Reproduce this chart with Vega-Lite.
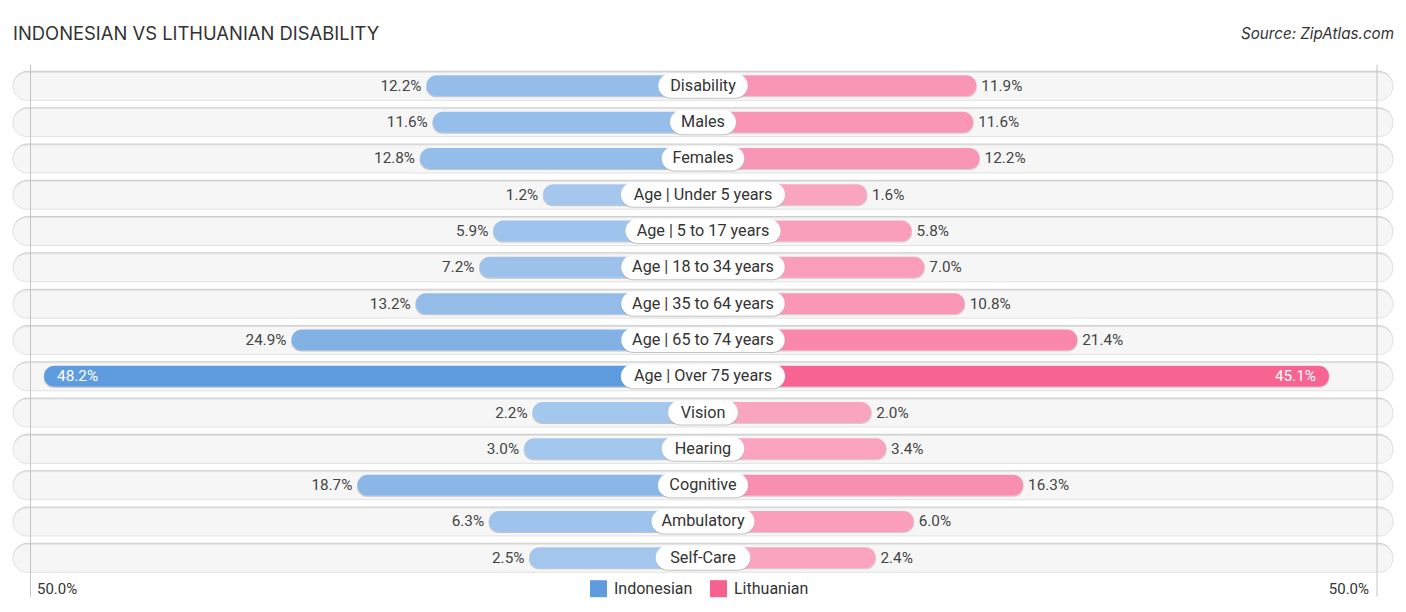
{
  "$schema": "https://vega.github.io/schema/vega-lite/v6.json",
  "autosize": {"type": "none"},
  "padding": {"left": 0, "top": 67.7, "right": 0, "bottom": 36.1},
  "width": 1406,
  "height": 508.2,
  "background": "white",
  "view": {"stroke": null},
  "title": {
    "text": "INDONESIAN VS LITHUANIAN DISABILITY",
    "anchor": "start",
    "frame": "group",
    "dx": 13,
    "offset": -17,
    "font": "Inter",
    "fontSize": 18.4,
    "fontWeight": "normal",
    "color": "#333333"
  },
  "data": {
    "values": [
      {"category": "Disability", "group": "Indonesian", "value": 12.2},
      {"category": "Disability", "group": "Lithuanian", "value": 11.9},
      {"category": "Males", "group": "Indonesian", "value": 11.6},
      {"category": "Males", "group": "Lithuanian", "value": 11.6},
      {"category": "Females", "group": "Indonesian", "value": 12.8},
      {"category": "Females", "group": "Lithuanian", "value": 12.2},
      {"category": "Age | Under 5 years", "group": "Indonesian", "value": 1.2},
      {"category": "Age | Under 5 years", "group": "Lithuanian", "value": 1.6},
      {"category": "Age | 5 to 17 years", "group": "Indonesian", "value": 5.9},
      {"category": "Age | 5 to 17 years", "group": "Lithuanian", "value": 5.8},
      {"category": "Age | 18 to 34 years", "group": "Indonesian", "value": 7.2},
      {"category": "Age | 18 to 34 years", "group": "Lithuanian", "value": 7.0},
      {"category": "Age | 35 to 64 years", "group": "Indonesian", "value": 13.2},
      {"category": "Age | 35 to 64 years", "group": "Lithuanian", "value": 10.8},
      {"category": "Age | 65 to 74 years", "group": "Indonesian", "value": 24.9},
      {"category": "Age | 65 to 74 years", "group": "Lithuanian", "value": 21.4},
      {"category": "Age | Over 75 years", "group": "Indonesian", "value": 48.2},
      {"category": "Age | Over 75 years", "group": "Lithuanian", "value": 45.1},
      {"category": "Vision", "group": "Indonesian", "value": 2.2},
      {"category": "Vision", "group": "Lithuanian", "value": 2.0},
      {"category": "Hearing", "group": "Indonesian", "value": 3.0},
      {"category": "Hearing", "group": "Lithuanian", "value": 3.4},
      {"category": "Cognitive", "group": "Indonesian", "value": 18.7},
      {"category": "Cognitive", "group": "Lithuanian", "value": 16.3},
      {"category": "Ambulatory", "group": "Indonesian", "value": 6.3},
      {"category": "Ambulatory", "group": "Lithuanian", "value": 6.0},
      {"category": "Self-Care", "group": "Indonesian", "value": 2.5},
      {"category": "Self-Care", "group": "Lithuanian", "value": 2.4}
    ]
  },
  "transform": [
    {"calculate": "format(datum.value, '.1f') + '%'", "as": "label"}
  ],
  "encoding": {
    "y": {"field": "category", "type": "nominal", "sort": null, "axis": null, "scale": {"paddingInner": 0, "paddingOuter": 0}}
  },
  "resolve": {"scale": {"x": "independent"}},
  "layer": [
    {
      "transform": [{"filter": "datum.group === 'Indonesian'"}],
      "mark": {"type": "bar", "height": 29, "cornerRadius": 15, "color": "#cfcfcf", "yOffset": -0.5},
      "encoding": {
        "x": {"datum": -690, "type": "quantitative", "axis": null, "scale": {"domain": [-703, 703], "range": [0, 1406]}},
        "x2": {"datum": 690}
      }
    },
    {
      "transform": [{"filter": "datum.group === 'Indonesian'"}],
      "mark": {"type": "bar", "height": 28, "cornerRadius": 14, "color": "#f6f6f6", "stroke": "#e2e2e2", "strokeWidth": 1, "yOffset": 0.5},
      "encoding": {
        "x": {"datum": -690, "type": "quantitative", "axis": null, "scale": {"domain": [-703, 703], "range": [0, 1406]}},
        "x2": {"datum": 690}
      }
    },
    {
      "data": {"values": [{"side": -672.5}, {"side": 674}]},
      "mark": {"type": "rule", "color": "#c4c4c4", "strokeWidth": 1},
      "encoding": {
        "y": {"value": -3},
        "y2": {"value": 529},
        "x": {"field": "side", "type": "quantitative", "axis": null, "scale": {"domain": [-703, 703], "range": [0, 1406]}}
      }
    },
    {
      "data": {"values": [{"side": -666, "label": "50.0%"}]},
      "mark": {"type": "text", "align": "left", "baseline": "middle", "font": "Roboto", "fontSize": 15, "color": "#333333"},
      "encoding": {
        "y": {"value": 521},
        "x": {"field": "side", "type": "quantitative", "axis": null, "scale": {"domain": [-703, 703], "range": [0, 1406]}},
        "text": {"field": "label"}
      }
    },
    {
      "data": {"values": [{"side": 666, "label": "50.0%"}]},
      "mark": {"type": "text", "align": "right", "baseline": "middle", "font": "Roboto", "fontSize": 15, "color": "#333333"},
      "encoding": {
        "y": {"value": 521},
        "x": {"field": "side", "type": "quantitative", "axis": null, "scale": {"domain": [-703, 703], "range": [0, 1406]}},
        "text": {"field": "label"}
      }
    },
    {
      "data": {"values": [{"side": 691, "label": "Source: ZipAtlas.com"}]},
      "mark": {"type": "text", "align": "right", "baseline": "middle", "font": "Inter", "fontStyle": "italic", "fontSize": 15.2, "color": "#333333"},
      "encoding": {
        "y": {"value": -34},
        "x": {"field": "side", "type": "quantitative", "axis": null, "scale": {"domain": [-703, 703], "range": [0, 1406]}},
        "text": {"field": "label"}
      }
    },
    {
      "transform": [{"filter": "datum.group === 'Indonesian'"}],
      "mark": {"type": "bar", "height": 21, "cornerRadius": 10, "color": "#777777", "opacity": 0.4, "yOffset": 1, "xOffset": -0.5},
      "encoding": {
        "x": {"field": "value", "type": "quantitative", "axis": null, "scale": {"domain": [-13.84, 50], "range": [703, 25]}},
        "x2": {"datum": -13.84}
      }
    },
    {
      "transform": [{"filter": "datum.group === 'Lithuanian'"}],
      "mark": {"type": "bar", "height": 21, "cornerRadius": 10, "color": "#777777", "opacity": 0.3, "yOffset": 1, "xOffset": 0.5},
      "encoding": {
        "x": {"field": "value", "type": "quantitative", "axis": null, "scale": {"domain": [-13.84, 50], "range": [703, 1381]}},
        "x2": {"datum": -13.84}
      }
    },
    {
      "transform": [{"filter": "datum.group === 'Indonesian'"}],
      "mark": {"type": "bar", "height": 21, "cornerRadius": 10, "color": "white"},
      "encoding": {
        "x": {"field": "value", "type": "quantitative", "axis": null, "scale": {"domain": [-13.84, 50], "range": [703, 25]}},
        "x2": {"datum": -13.84}
      }
    },
    {
      "transform": [{"filter": "datum.group === 'Lithuanian'"}],
      "mark": {"type": "bar", "height": 21, "cornerRadius": 10, "color": "white"},
      "encoding": {
        "x": {"field": "value", "type": "quantitative", "axis": null, "scale": {"domain": [-13.84, 50], "range": [703, 1381]}},
        "x2": {"datum": -13.84}
      }
    },
    {
      "transform": [{"filter": "datum.group === 'Indonesian'"}],
      "mark": {"type": "bar", "height": 21, "cornerRadius": 10},
      "encoding": {
        "x": {"field": "value", "type": "quantitative", "axis": null, "scale": {"domain": [-13.84, 50], "range": [703, 25]}},
        "x2": {"datum": -13.84},
        "color": {
          "field": "group",
          "type": "nominal",
          "scale": {"domain": ["Indonesian", "Lithuanian"], "range": ["#5f9cdf", "#f7608f"]},
          "legend": {
            "orient": "none",
            "legendX": 590,
            "legendY": 512.5,
            "direction": "horizontal",
            "columns": 2,
            "columnPadding": 17,
            "title": null,
            "symbolType": "square",
            "symbolSize": 289,
            "symbolStrokeWidth": 0,
            "symbolOpacity": 1,
            "labelFont": "Roboto",
            "labelFontSize": 16,
            "labelColor": "#333333",
            "labelOffset": 7
          }
        },
        "opacity": {"field": "value", "type": "quantitative", "legend": null, "scale": {"domain": [0, 48.2], "range": [0.55, 1]}}
      }
    },
    {
      "transform": [{"filter": "datum.group === 'Lithuanian'"}],
      "mark": {"type": "bar", "height": 21, "cornerRadius": 10},
      "encoding": {
        "x": {"field": "value", "type": "quantitative", "axis": null, "scale": {"domain": [-13.84, 50], "range": [703, 1381]}},
        "x2": {"datum": -13.84},
        "color": {"field": "group", "type": "nominal", "scale": {"domain": ["Indonesian", "Lithuanian"], "range": ["#5f9cdf", "#f7608f"]}},
        "opacity": {"field": "value", "type": "quantitative", "legend": null, "scale": {"domain": [0, 48.2], "range": [0.55, 1]}}
      }
    },
    {
      "transform": [{"filter": "datum.group === 'Indonesian' && datum.value < 40"}],
      "mark": {"type": "text", "align": "right", "baseline": "middle", "dx": -5, "font": "Roboto", "fontSize": 15.3, "color": "#444444"},
      "encoding": {
        "x": {"field": "value", "type": "quantitative", "axis": null, "scale": {"domain": [-13.84, 50], "range": [703, 25]}},
        "text": {"field": "label"}
      }
    },
    {
      "transform": [{"filter": "datum.group === 'Lithuanian' && datum.value < 40"}],
      "mark": {"type": "text", "align": "left", "baseline": "middle", "dx": 5, "font": "Roboto", "fontSize": 15.3, "color": "#444444"},
      "encoding": {
        "x": {"field": "value", "type": "quantitative", "axis": null, "scale": {"domain": [-13.84, 50], "range": [703, 1381]}},
        "text": {"field": "label"}
      }
    },
    {
      "transform": [{"filter": "datum.group === 'Indonesian' && datum.value >= 40"}],
      "mark": {"type": "text", "align": "left", "baseline": "middle", "dx": 13, "font": "Roboto", "fontSize": 15.3, "color": "white"},
      "encoding": {
        "x": {"field": "value", "type": "quantitative", "axis": null, "scale": {"domain": [-13.84, 50], "range": [703, 25]}},
        "text": {"field": "label"}
      }
    },
    {
      "transform": [{"filter": "datum.group === 'Lithuanian' && datum.value >= 40"}],
      "mark": {"type": "text", "align": "right", "baseline": "middle", "dx": -13, "font": "Roboto", "fontSize": 15.3, "color": "white"},
      "encoding": {
        "x": {"field": "value", "type": "quantitative", "axis": null, "scale": {"domain": [-13.84, 50], "range": [703, 1381]}},
        "text": {"field": "label"}
      }
    },
    {
      "transform": [
        {"filter": "datum.group === 'Indonesian'"},
        {"calculate": "length(replace(datum.category, /[il|t\\-\\s]/g, ''))", "as": "wide"},
        {"calculate": "(29 + 8.3 * datum.wide + 3.8 * (length(datum.category) - datum.wide)) / 2", "as": "pillEnd"},
        {"calculate": "-datum.pillEnd", "as": "pillStart"}
      ],
      "mark": {"type": "bar", "height": 24, "cornerRadius": 12, "color": "#888888", "opacity": 0.45, "yOffset": 1},
      "encoding": {
        "x": {"field": "pillStart", "type": "quantitative", "axis": null, "scale": {"domain": [-703, 703], "range": [0, 1406]}},
        "x2": {"field": "pillEnd"}
      }
    },
    {
      "transform": [
        {"filter": "datum.group === 'Indonesian'"},
        {"calculate": "length(replace(datum.category, /[il|t\\-\\s]/g, ''))", "as": "wide"},
        {"calculate": "(29 + 8.3 * datum.wide + 3.8 * (length(datum.category) - datum.wide)) / 2", "as": "pillEnd"},
        {"calculate": "-datum.pillEnd", "as": "pillStart"}
      ],
      "mark": {"type": "bar", "height": 24, "cornerRadius": 12, "color": "white"},
      "encoding": {
        "x": {"field": "pillStart", "type": "quantitative", "axis": null, "scale": {"domain": [-703, 703], "range": [0, 1406]}},
        "x2": {"field": "pillEnd"}
      }
    },
    {
      "transform": [{"filter": "datum.group === 'Indonesian'"}],
      "mark": {"type": "text", "align": "center", "baseline": "middle", "font": "Roboto", "fontSize": 16.2, "color": "#333333"},
      "encoding": {
        "x": {"datum": 0, "type": "quantitative", "axis": null, "scale": {"domain": [-703, 703], "range": [0, 1406]}},
        "text": {"field": "category"}
      }
    }
  ]
}
